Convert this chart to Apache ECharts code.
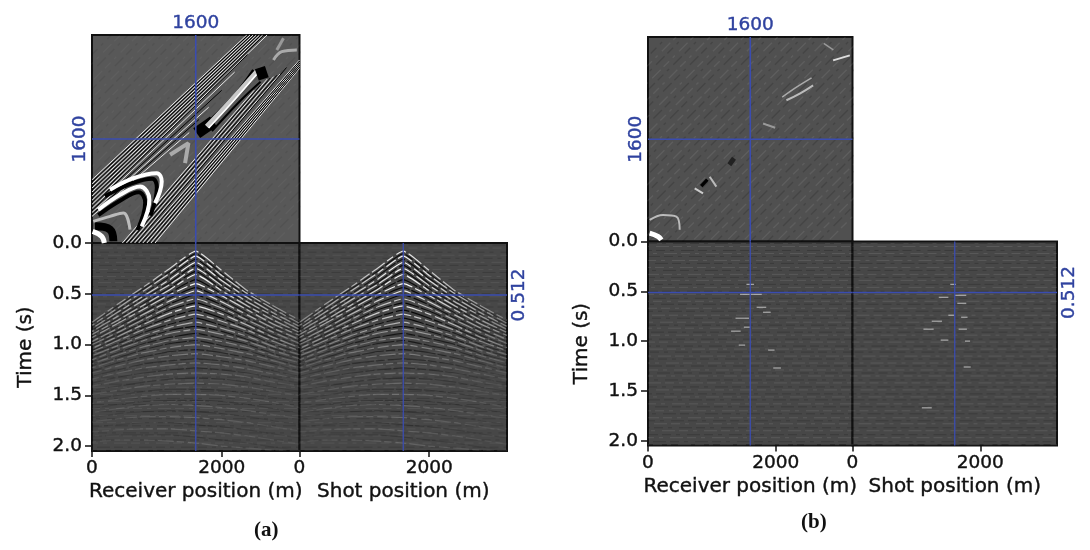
<!DOCTYPE html>
<html>
<head>
    <meta charset='utf-8' />
    <title>wavefield panels</title>
    <script src="https://cdn.jsdelivr.net/npm/echarts@6/dist/echarts.min.js"></script>
</head>
<body style='margin:0;background:#fff;'>
<div id='main' style='width:1090px;height:550px;'></div>

<script type='text/javascript'>
    var posMax = 3200, timeMax = 2.048;
    var crossPos = 1600, crossTime = 0.512;
    var posTicks = [0, 2000];
    var timeTicks = [0, 0.5, 1, 1.5, 2];
    var receiverName = 'Receiver position (m)', shotName = 'Shot position (m)', timeName = 'Time (s)';

    // gather events, time (s) read at these positions (m)
    var eventPos = [0, 400, 800, 1200, 1600, 2000, 2400, 2800, 3200];
    var whiteEvents = [
        [.78, .60, .43, .25, .08, .27, .47, .62, .76],
        [.81, .64, .47, .30, .13, .32, .50, .65, .79],
        [.84, .68, .52, .36, .19, .37, .54, .69, .82],
        [.87, .72, .56, .41, .25, .42, .58, .72, .85],
        [.90, .76, .61, .46, .31, .47, .62, .76, .88],
        [.93, .79, .65, .51, .40, .52, .66, .80, .91],
        [.97, .84, .70, .57, .47, .58, .71, .84, .95],
        [1.00, .88, .75, .63, .55, .64, .76, .88, .99],
        [1.04, .92, .80, .69, .62, .70, .81, .93, 1.03],
        [1.07, .96, .85, .76, .70, .77, .86, .97, 1.06],
        [1.11, 1.01, .91, .83, .78, .84, .92, 1.02, 1.10],
        [1.15, 1.05, .96, .89, .85, .90, .97, 1.06, 1.14],
        [1.19, 1.10, 1.02, .96, .93, .97, 1.03, 1.11, 1.18],
        [1.23, 1.15, 1.08, 1.03, 1.00, 1.04, 1.09, 1.16, 1.23],
        [1.28, 1.21, 1.15, 1.11, 1.09, 1.12, 1.16, 1.22, 1.28],
        [1.34, 1.28, 1.23, 1.20, 1.18, 1.20, 1.24, 1.29, 1.34],
        [1.41, 1.36, 1.32, 1.29, 1.28, 1.29, 1.32, 1.37, 1.41],
        [1.49, 1.45, 1.41, 1.39, 1.38, 1.39, 1.42, 1.46, 1.50],
        [1.58, 1.54, 1.51, 1.49, 1.49, 1.50, 1.53, 1.57, 1.62],
        [1.67, 1.63, 1.60, 1.59, 1.60, 1.62, 1.65, 1.69, 1.73],
        [1.76, 1.73, 1.71, 1.71, 1.72, 1.74, 1.77, 1.81, 1.85],
        [1.86, 1.84, 1.83, 1.83, 1.85, 1.87, 1.90, 1.94, 1.98],
        [1.96, 1.94, 1.94, 1.95, 1.97, 2.00, 2.02, 2.04, 2.05]
    ];
    var blackEvents = [
        [.80, .62, .45, .28, .105, .30, .49, .64, .78],
        [.83, .66, .50, .33, .16, .35, .52, .67, .81],
        [.86, .70, .54, .39, .22, .40, .56, .71, .84],
        [.89, .74, .59, .44, .28, .45, .60, .74, .87],
        [.92, .78, .63, .49, .36, .50, .64, .78, .90],
        [.95, .82, .68, .54, .44, .55, .69, .82, .93],
        [.99, .86, .73, .60, .51, .61, .74, .86, .97],
        [1.02, .90, .78, .66, .59, .67, .79, .91, 1.01],
        [1.06, .94, .83, .73, .66, .74, .84, .95, 1.05],
        [1.09, .99, .88, .80, .74, .81, .89, 1.00, 1.08],
        [1.13, 1.03, .94, .86, .82, .87, .95, 1.04, 1.12],
        [1.17, 1.08, .99, .93, .89, .94, 1.00, 1.09, 1.16],
        [1.21, 1.13, 1.05, .99, .96, 1.01, 1.06, 1.14, 1.21],
        [1.26, 1.18, 1.12, 1.07, 1.05, 1.08, 1.13, 1.19, 1.26],
        [1.31, 1.25, 1.19, 1.16, 1.14, 1.16, 1.20, 1.26, 1.31],
        [1.38, 1.32, 1.28, 1.25, 1.23, 1.25, 1.28, 1.33, 1.38],
        [1.45, 1.41, 1.37, 1.34, 1.33, 1.34, 1.37, 1.42, 1.46],
        [1.54, 1.50, 1.46, 1.44, 1.44, 1.45, 1.48, 1.52, 1.56],
        [1.63, 1.59, 1.56, 1.55, 1.55, 1.56, 1.59, 1.63, 1.68],
        [1.72, 1.68, 1.66, 1.65, 1.66, 1.68, 1.71, 1.75, 1.79],
        [1.81, 1.79, 1.77, 1.77, 1.79, 1.81, 1.84, 1.88, 1.92],
        [1.91, 1.89, 1.89, 1.89, 1.91, 1.94, 1.97, 2.01, 2.04]
    ];
    var whiteAmp = [.9, .95, 1, .95, 1, 1, .9, .75, .9, .75, .6, .5, .4, .35, .3, .25, .22, .2, .2, .18, .18, .16, .16];
    var blackAmp = [.85, .9, .9, .9, .9, .9, .95, .95, .95, .9, .85, .75, .65, .55, .45, .4, .35, .3, .3, .25, .25, .22];

    // diagonal stripes of the top left panel [x0, y0, x1, y1] in m
    var stripesUpperWhite = [
        [0, 973, 2387, 3200], [0, 910, 2436, 3200], [0, 847, 2485, 3200], [0, 784, 2534, 3200], [0, 721, 2583, 3200],
        [0, 658, 2632, 3200], [0, 595, 2700, 3200], [0, 532, 2200, 2630], [0, 470, 1800, 2090], [0, 410, 1500, 1700]
    ];
    var stripesUpperBlack = [
        [0, 941, 2411, 3200], [0, 878, 2460, 3200], [0, 815, 2510, 3200], [0, 752, 2558, 3200], [0, 690, 2607, 3200],
        [0, 627, 2656, 3200], [0, 563, 2400, 2900], [0, 500, 2000, 2350], [0, 440, 1650, 1900]
    ];
    var stripesLowerWhite = [
        [972, 0, 3200, 2688], [909, 0, 3200, 2720], [846, 0, 3200, 2752], [783, 0, 3200, 2784], [720, 0, 3200, 2816],
        [657, 0, 2900, 2600], [594, 0, 2800, 2560], [531, 0, 2700, 2520], [468, 0, 2500, 2350]
    ];
    var stripesLowerBlack = [
        [940, 0, 3200, 2704], [877, 0, 3200, 2736], [814, 0, 3200, 2768], [751, 0, 3200, 2800],
        [688, 0, 3000, 2700], [625, 0, 2850, 2580], [562, 0, 2750, 2540], [499, 0, 2600, 2430]
    ];

    // strong events of the top left panel, [[x, y], ...], colour, width
    var ridgesLeft = [
        [[[46, 256], [278, 205], [329, 26]], '#000', 8],
        [[[10, 179], [149, 102], [190, 0]], '#fff', 5],
        [[[20, 333], [278, 410], [484, 461], [586, 205]], '#bbb', 3],
        [[[98, 430], [432, 650], [720, 780], [820, 620], [700, 200]], '#000', 4],
        [[[200, 720], [620, 920], [930, 990], [1000, 850], [900, 420]], '#000', 4],
        [[[98, 512], [432, 742], [741, 870], [885, 666], [767, 256]], '#fff', 4],
        [[[278, 819], [638, 998], [998, 1075], [1075, 947], [972, 614]], '#fff', 4],
        [[[1204, 1357], [1487, 1536], [1435, 1229]], '#aaa', 4],
        [[[1615, 1690], [1873, 1869]], '#000', 12],
        [[[1641, 1715], [2181, 2253], [2490, 2662]], '#000', 3],
        [[[1770, 1792], [2130, 2176], [2542, 2637]], '#c8c8c8', 5],
        [[[1800, 1770], [2150, 2150], [2560, 2620]], '#fff', 1.6],
        [[[1850, 1720], [2280, 2180], [2600, 2480]], '#000', 2],
        [[[2542, 2586], [2696, 2637]], '#000', 12],
        [[[2799, 2816], [2927, 2944], [3159, 2970]], '#aaa', 3],
        [[[2850, 2970], [2953, 3149]], '#999', 3]
    ];
    // weak events left in the top right panel
    var ridgesRight = [
        [[[26, 130], [157, 78], [209, 26]], '#fff', 5],
        [[[26, 338], [235, 416], [444, 390], [496, 182]], '#bbb', 2],
        [[[861, 936], [900, 900]], '#000', 9],
        [[[731, 832], [861, 754]], '#ccc', 2],
        [[[966, 1014], [1070, 858]], '#bbb', 2],
        [[[1279, 1274], [1340, 1230]], '#222', 8],
        [[[1801, 1846], [1990, 1780]], '#999', 2],
        [[[2166, 2210], [2375, 2314], [2584, 2444]], '#bbb', 2],
        [[[2100, 2260], [2300, 2400], [2560, 2560]], '#aaa', 1.5],
        [[[2897, 2834], [3158, 2912]], '#ddd', 2],
        [[[2750, 3100], [2900, 3000]], '#999', 1.5]
    ];
    // short residual dashes of the lower right panels [x0, x1, t]
    var residualLeft = [
        [1370, 1580, .77], [1540, 1660, .43], [1440, 1780, .53], [1420, 1520, 1.04], [1960, 2080, 1.27],
        [1800, 1920, .71], [1700, 1850, .66], [1500, 1600, .86], [1880, 1980, 1.09], [1300, 1450, .90]
    ];
    var residualRight = [
        [1110, 1270, .88], [1240, 1400, .80], [1500, 1600, .74], [1740, 1850, 1.26], [1760, 1840, 1.00],
        [1530, 1620, .43], [1350, 1500, .56], [1640, 1780, .62], [1085, 1240, 1.67], [1700, 1800, .76],
        [1600, 1780, .54], [1380, 1500, .99], [1660, 1790, .88]
    ];
    // background grain: estimated reflector times and diagonal offsets
    var grainTimes = [.02, .05, .09, .12, .15, .19, .22, .26, .29, .33, .36, .39, .43, .46, .5, .53, .57, .6, .63, .67, .7, .74, .77, .81,
        .84, .87, .91, .94, .98, 1.01, 1.05, 1.08, 1.11, 1.15, 1.18, 1.22, 1.25, 1.29, 1.32, 1.35, 1.39, 1.42, 1.46, 1.49, 1.53,
        1.56, 1.59, 1.63, 1.66, 1.7, 1.73, 1.77, 1.8, 1.83, 1.87, 1.9, 1.94, 1.97, 2.01, 2.04];
    var grainOffsets = [-2900, -2760, -2640, -2490, -2370, -2230, -2110, -1960, -1840, -1700, -1580, -1430, -1310, -1170, -1050, -900,
        -780, -640, -520, -370, -250, -110, 10, 160, 280, 420, 540, 690, 810, 950, 1070, 1220, 1340, 1480, 1600, 1750, 1870, 2010, 2130, 2280, 2400, 2540, 2660, 2810];

    var black = '#111';
    var blue = '#2f429f';
    var crossBlue = '#3a4cb0';
    var labelFont = 'DejaVu Sans';

    var option = {
        animation: false,
        backgroundColor: '#fff',
        title: [
            { text: '(a)', left: 249, top: 515, textStyle: { fontFamily: 'Liberation Serif', fontSize: 21, fontWeight: 'bold', color: '#111' } },
            { text: '(b)', left: 796, top: 507, textStyle: { fontFamily: 'Liberation Serif', fontSize: 21, fontWeight: 'bold', color: '#111' } }
        ],
        grid: [], xAxis: [], yAxis: [], series: []
    };

    function addGrid(left, top, width, height, bg) {
        option.grid.push({ show: true, left: left, top: top, width: width, height: height, backgroundColor: bg, borderColor: black, borderWidth: 2 });
        return option.grid.length - 1;
    }

    function heavy(style) {
        style.textBorderColor = style.color;
        style.textBorderWidth = 0.4;
        return style;
    }

    function plain(v) { return String(v); }

    function topAxes(g) {
        option.xAxis.push({
            type: 'value', gridIndex: g, min: 0, max: posMax, position: 'top', splitLine: { show: false },
            axisLine: { show: false, onZero: false }, axisTick: { show: false },
            axisLabel: heavy({ customValues: [crossPos], color: blue, fontFamily: labelFont, fontSize: 18.5, margin: 2, formatter: plain })
        });
        option.yAxis.push({
            type: 'value', gridIndex: g, min: 0, max: posMax, position: 'left', splitLine: { show: false },
            axisLine: { show: false, onZero: false }, axisTick: { show: false },
            axisLabel: heavy({ customValues: [crossPos], rotate: 90, color: blue, fontFamily: labelFont, fontSize: 18.5, margin: 2, formatter: plain })
        });
    }

    function lowerAxes(g, name, side) {
        option.xAxis.push({
            type: 'value', gridIndex: g, min: 0, max: posMax, position: 'bottom',
            name: name, nameLocation: 'middle', nameGap: 31,
            nameTextStyle: heavy({ color: black, fontFamily: labelFont, fontSize: 20 }),
            splitLine: { show: false },
            axisLine: { show: false, onZero: false },
            axisTick: { customValues: posTicks, length: 6, lineStyle: { color: black, width: 1.5 } },
            axisLabel: heavy({ customValues: posTicks, color: black, fontFamily: labelFont, fontSize: 18.5, margin: 8, formatter: plain })
        });
        var y = {
            type: 'value', gridIndex: g, min: 0, max: timeMax, interval: 0.5, inverse: true, position: side,
            splitLine: { show: false },
            axisLine: { show: false, onZero: false }
        };
        if (side == 'left') {
            y.name = timeName;
            y.nameLocation = 'middle';
            y.nameGap = 56;
            y.nameRotate = 90;
            y.nameTextStyle = heavy({ color: black, fontFamily: labelFont, fontSize: 20 });
            y.axisTick = { customValues: timeTicks, length: 7, lineStyle: { color: black, width: 1.5 } };
            y.axisLabel = heavy({ customValues: timeTicks, color: black, fontFamily: labelFont, fontSize: 18.5, margin: 10, formatter: function (v) { return v.toFixed(1); } });
        } else {
            y.axisTick = { show: false };
            y.axisLabel = heavy({ customValues: [crossTime], rotate: 90, color: blue, fontFamily: labelFont, fontSize: 18.5, margin: 3, formatter: plain });
        }
        option.yAxis.push(y);
    }

    function line(g, data, color, width, opts) {
        opts = opts || {};
        option.series.push({
            type: 'line', xAxisIndex: g, yAxisIndex: g, data: data, symbol: 'none', silent: true,
            smooth: opts.smooth || false, z: opts.z || 2,
            lineStyle: { color: color, width: width, type: opts.dash || 'solid', dashOffset: opts.offset || 0 }
        });
    }

    function fade(rgb, amp) {
        return new echarts.graphic.LinearGradient(0, 0, 1, 0, [
            { offset: 0, color: 'rgba(' + rgb + ',' + amp * 0.35 + ')' },
            { offset: 0.3, color: 'rgba(' + rgb + ',' + amp * 0.7 + ')' },
            { offset: 0.5, color: 'rgba(' + rgb + ',' + amp + ')' },
            { offset: 0.7, color: 'rgba(' + rgb + ',' + amp * 0.7 + ')' },
            { offset: 1, color: 'rgba(' + rgb + ',' + amp * 0.3 + ')' }
        ]);
    }

    function addEvents(g) {
        blackEvents.forEach(function (row, i) {
            line(g, row.map(function (t, j) { return [eventPos[j], t]; }), fade('0,0,0', blackAmp[i]), 1.2,
                { smooth: 0.15, dash: [22, 2, 9, 3, 14, 2], offset: i * 11 });
        });
        whiteEvents.forEach(function (row, i) {
            line(g, row.map(function (t, j) { return [eventPos[j], t]; }), fade('255,255,255', whiteAmp[i]), 1.2,
                { smooth: 0.15, dash: [16, 3, 7, 4, 11, 3], offset: i * 13 });
        });
    }

    function addGrainRows(g, white, dark) {
        grainTimes.forEach(function (t, i) {
            line(g, [[0, t], [posMax, t]], i % 2 ? 'rgba(255,255,255,' + white + ')' : 'rgba(0,0,0,' + dark + ')', 1,
                { dash: [9, 5, 4, 7, 13, 4], offset: i * 17, z: 1 });
        });
    }

    function addGrainDiagonals(g, white, dark) {
        grainOffsets.forEach(function (o, i) {
            line(g, [[o, 0], [o + posMax, posMax]], i % 2 ? 'rgba(255,255,255,' + white + ')' : 'rgba(0,0,0,' + dark + ')', 1.4,
                { dash: [8, 5, 3, 6, 12, 4], offset: i * 19, z: 1 });
        });
    }

    function addStripes(g, list, color, width) {
        list.forEach(function (s) { line(g, [[s[0], s[1]], [s[2], s[3]]], color, width); });
    }

    function addRidges(g, list) {
        list.forEach(function (r) { line(g, r[0], r[1], r[2], { smooth: 0.4, z: 3 }); });
    }

    function addDashes(g, list) {
        list.forEach(function (d) { line(g, [[d[0], d[2]], [d[1], d[2]]], 'rgba(255,255,255,0.6)', 1.1); });
    }

    function addCross(g, isTop, width) {
        var yEnd = isTop ? posMax : timeMax;
        var yCross = isTop ? crossPos : crossTime;
        line(g, [[crossPos, 0], [crossPos, yEnd]], crossBlue, width, { z: 5 });
        line(g, [[0, yCross], [posMax, yCross]], crossBlue, width, { z: 5 });
    }

    // panel a
    var g = addGrid(92, 35, 207.5, 208, '#585858');
    topAxes(g);
    addGrainDiagonals(g, 0.04, 0.07);
    addStripes(g, stripesUpperWhite, '#e8e8e8', 1);
    addStripes(g, stripesUpperBlack, '#000', 1);
    addStripes(g, stripesLowerWhite, '#e8e8e8', 1);
    addStripes(g, stripesLowerBlack, '#000', 1);
    addRidges(g, ridgesLeft);
    addCross(g, true, 1.6);

    g = addGrid(92, 243, 207.5, 208, '#474747');
    lowerAxes(g, receiverName, 'left');
    addGrainRows(g, 0.07, 0.16);
    addEvents(g);
    addCross(g, false, 1.3);

    g = addGrid(299.5, 243, 207.5, 208, '#474747');
    lowerAxes(g, shotName, 'right');
    addGrainRows(g, 0.07, 0.16);
    addEvents(g);
    addCross(g, false, 1.3);

    // panel b
    g = addGrid(648, 37, 204.5, 204.5, '#505050');
    topAxes(g);
    addGrainDiagonals(g, 0.08, 0.14);
    addRidges(g, ridgesRight);
    addCross(g, true, 1.6);

    g = addGrid(648, 241.5, 204.5, 204, '#474747');
    lowerAxes(g, receiverName, 'left');
    addGrainRows(g, 0.1, 0.18);
    addDashes(g, residualLeft);
    addCross(g, false, 1.3);

    g = addGrid(852.5, 241.5, 204.5, 204, '#474747');
    lowerAxes(g, shotName, 'right');
    addGrainRows(g, 0.1, 0.18);
    addDashes(g, residualRight);
    addCross(g, false, 1.3);

    var chartDom = document.getElementById('main');
    var myChart = echarts.init(chartDom);
    myChart.setOption(option);
</script>
</body>
</html>
